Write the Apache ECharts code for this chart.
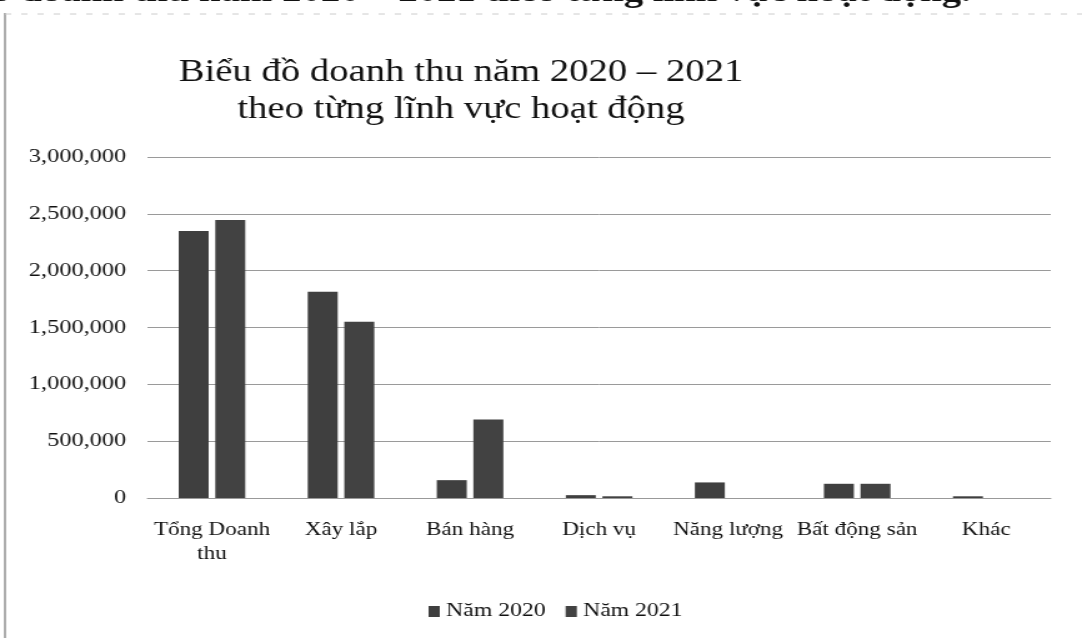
<!DOCTYPE html>
<html>
<head>
<meta charset="utf-8">
<script src="https://cdn.jsdelivr.net/npm/echarts@6/dist/echarts.min.js"></script>
<style>
html,body{margin:0;padding:0;background:#fff;overflow:hidden;}
#wrap{width:1082px;height:638px;overflow:hidden;}
/* the reference is a horizontally stretched scan: render narrower and stretch */
#chart{width:866px;height:638px;transform:scaleX(1.2494);transform-origin:0 0;}
</style>
</head>
<body>
<div id="wrap"><div id="chart"></div></div>
<script>
var categories = ['Tổng Doanh\nthu', 'Xây lắp', 'Bán hàng', 'Dịch vụ', 'Năng lượng', 'Bất động sản', 'Khác'];
var seriesNames = ['Năm 2020', 'Năm 2021'];
var values2020 = [2350000, 1815000, 157000, 25000, 137000, 125000, 15000];
var values2021 = [2445000, 1550000, 690000, 15000, 0, 125000, 0];
var yTicks = { min: 0, max: 3000000, interval: 500000 };

var chart = echarts.init(document.getElementById('chart'));
var serif = '"Liberation Serif", "DejaVu Serif", serif';
function fmt(v){ return v.toString().replace(/\B(?=(\d{3})+(?!\d))/g, ','); }

chart.setOption({
  backgroundColor: '#ffffff',
  animation: false,
  title: {
    text: 'Biểu đồ doanh thu năm 2020 – 2021\ntheo từng lĩnh vực hoạt động',
    left: 364, top: 49, textAlign: 'center',
    textStyle: { fontFamily: serif, fontSize: 31, fontWeight: 'normal', color: '#111', lineHeight: 37 }
  },
  graphic: [
    { type: 'text', right: 89, top: -23,
      style: { text: 'Biểu đồ doanh thu năm 2020 – 2021 theo từng lĩnh vực hoạt động.', font: 'bold 31px "Liberation Serif", serif', fill: '#111' } },
    { type: 'line', shape: { x1: 4, y1: 13, x2: 4, y2: 638 }, style: { stroke: '#777', lineWidth: 1.2 } },
    { type: 'line', shape: { x1: 4, y1: 14, x2: 866, y2: 14 }, style: { stroke: '#ccc', lineWidth: 1, lineDash: [5, 8] } }
  ],
  legend: {
    data: seriesNames, left: 338, top: 597, icon: 'rect',
    itemWidth: 9, itemHeight: 11, itemGap: 16,
    textStyle: { fontFamily: serif, fontSize: 19, color: '#111' }
  },
  grid: { left: 118, right: 25, top: 157, bottom: 140, containLabel: false },
  xAxis: {
    type: 'category', data: categories,
    axisLine: { show: true, lineStyle: { color: '#999', width: 1 } },
    axisTick: { show: false },
    axisLabel: { fontFamily: serif, fontSize: 18.5, color: '#111', margin: 20, lineHeight: 24, interval: 0 }
  },
  yAxis: {
    type: 'value', min: yTicks.min, max: yTicks.max, interval: yTicks.interval,
    axisLine: { show: false }, axisTick: { show: false },
    splitLine: { lineStyle: { color: '#9a9a9a', width: 1 } },
    axisLabel: { fontFamily: serif, fontSize: 19.5, color: '#111', margin: 17, formatter: fmt }
  },
  series: [
    { name: seriesNames[0], type: 'bar', data: values2020, barWidth: 24, barGap: '22%',
      itemStyle: { color: '#3f3f3f' } },
    { name: seriesNames[1], type: 'bar', data: values2021, barWidth: 24, barGap: '22%',
      itemStyle: { color: '#424242' } }
  ]
});
</script>
</body>
</html>
